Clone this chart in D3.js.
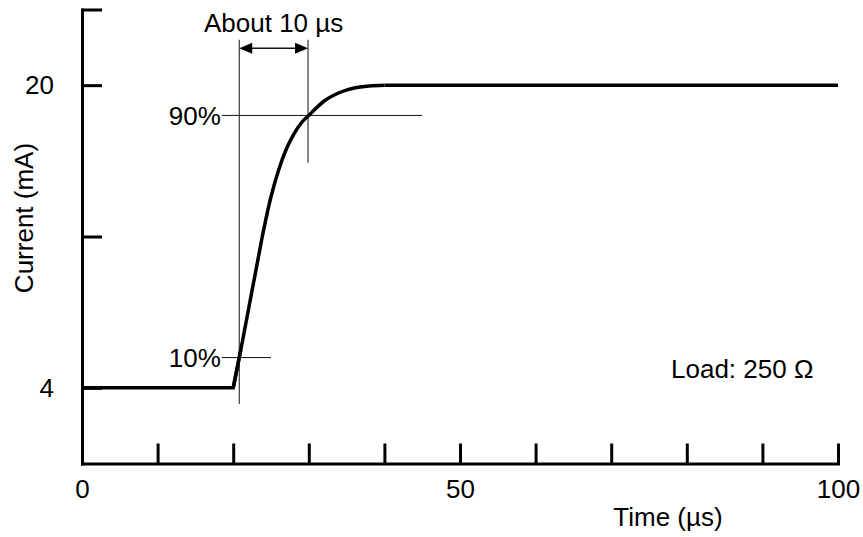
<!DOCTYPE html>
<html>
<head>
<meta charset="utf-8">
<script src="https://cdn.jsdelivr.net/npm/d3@7/dist/d3.min.js"></script>
<style>
  html, body { margin: 0; padding: 0; background: #fff; }
  svg text { font-family: "Liberation Sans", Arial, Helvetica, sans-serif; fill: #000; }
</style>
</head>
<body>
<svg id="chart" width="863" height="537"></svg>
<script>
// Step response of a 4–20 mA current output (time in µs, current in mA)
const riseTime = [20, 21, 22, 23, 24, 25, 26, 27, 28, 29, 30, 31, 32, 34, 36, 38, 40];
const riseCurrent = [4, 6.0, 8.1, 10.2, 12.3, 14.1, 15.5, 16.6, 17.4, 18.0, 18.4, 18.8, 19.15, 19.6, 19.85, 19.96, 20];
const startTime = 0;
const endTime = 100;
const lowCurrent = 4;
const highCurrent = 20;

const xTicks = [0, 10, 20, 30, 40, 50, 60, 70, 80, 90, 100];
const xTickLabels = { 0: "0", 50: "50", 100: "100" };
const yTicks = [4, 12, 20, 24];
const yTickLabels = { 4: "4", 20: "20" };

// 10% / 90% levels of the 4–20 mA span and where the curve crosses them
const levelNames = ["10%", "90%"];
const levelCurrent = [5.6, 18.4];
const levelCrossTime = [20.8, 29.9];
const spanLabel = "About 10 µs";
const loadLabel = "Load: 250 Ω";

const svg = d3.select("#chart");
const FS = 26;

const x = d3.scaleLinear().domain([0, 100]).range([82, 838]);
const y = d3.scaleLinear().domain([0, 24]).range([463.5, 9.5]);

// Axes (ticks point into the plot)
const yAxis = d3.axisLeft(y)
  .tickValues(yTicks)
  .tickSizeInner(-20).tickSizeOuter(0).tickPadding(28)
  .tickFormat(d => yTickLabels[d] || "");
const xAxis = d3.axisBottom(x)
  .tickValues(xTicks)
  .tickSizeInner(-20).tickSizeOuter(0).tickPadding(16)
  .tickFormat(d => xTickLabels[d] || "");

function styleAxis(g) {
  g.select(".domain").attr("stroke", "#000").attr("stroke-width", 3).attr("stroke-linecap", "square");
  g.selectAll(".tick line").attr("stroke", "#000").attr("stroke-width", 3);
  g.selectAll(".tick text").attr("font-size", FS).attr("font-family", null).attr("fill", "#000");
}

svg.append("g").attr("transform", `translate(${x(0)},0)`).call(yAxis).call(styleAxis);
svg.append("g").attr("transform", `translate(0,${y(0)})`).call(xAxis).call(styleAxis);

// Axis titles
svg.append("text")
  .attr("transform", `translate(33,${218}) rotate(-90)`)
  .attr("text-anchor", "middle")
  .attr("font-size", FS)
  .text("Current (mA)");
svg.append("text")
  .attr("x", 668).attr("y", 526)
  .attr("text-anchor", "middle")
  .attr("font-size", FS)
  .text("Time (µs)");

// Guide lines for the 10% and 90% levels
const thin = { stroke: "#111", width: 1 };
const hExtent = [[18.5, 25], [18.5, 45]];
levelNames.forEach((name, i) => {
  svg.append("line")
    .attr("x1", x(hExtent[i][0])).attr("x2", x(hExtent[i][1]))
    .attr("y1", y(levelCurrent[i])).attr("y2", y(levelCurrent[i]))
    .attr("stroke", thin.stroke).attr("stroke-width", thin.width);
  svg.append("text")
    .attr("x", x(hExtent[i][0]) - 1).attr("y", y(levelCurrent[i]))
    .attr("dy", "0.36em")
    .attr("text-anchor", "end")
    .attr("font-size", FS)
    .text(name);
});
const vExtent = [[3.15, 22.4], [15.9, 22.4]];
levelCrossTime.forEach((t, i) => {
  svg.append("line")
    .attr("x1", x(t)).attr("x2", x(t))
    .attr("y1", y(vExtent[i][0])).attr("y2", y(vExtent[i][1]))
    .attr("stroke", thin.stroke).attr("stroke-width", thin.width);
});

// Double-headed arrow spanning the rise time
const arrowY = y(21.95);
const ax0 = x(levelCrossTime[0]), ax1 = x(levelCrossTime[1]);
const headL = 13, headW = 5.5;
svg.append("line")
  .attr("x1", ax0 + headL - 1).attr("x2", ax1 - headL + 1)
  .attr("y1", arrowY).attr("y2", arrowY)
  .attr("stroke", "#111").attr("stroke-width", 1.5);
svg.append("path")
  .attr("d", `M${ax0},${arrowY} L${ax0 + headL},${arrowY - headW} L${ax0 + headL},${arrowY + headW} Z`)
  .attr("fill", "#000");
svg.append("path")
  .attr("d", `M${ax1},${arrowY} L${ax1 - headL},${arrowY - headW} L${ax1 - headL},${arrowY + headW} Z`)
  .attr("fill", "#000");
svg.append("text")
  .attr("x", (ax0 + ax1) / 2).attr("y", 32)
  .attr("text-anchor", "middle")
  .attr("font-size", FS)
  .text(spanLabel);

// Current waveform: flat low level, rise, flat high level
const line = d3.line().x(d => x(d[0])).y(d => y(d[1]));
const rise = riseTime.map((t, i) => [t, riseCurrent[i]]);
const curveStyle = g => g.attr("fill", "none").attr("stroke", "#000").attr("stroke-width", 3.5).attr("stroke-linejoin", "miter");
svg.append("path")
  .datum([[startTime, lowCurrent], [riseTime[0], lowCurrent], [riseTime[1], riseCurrent[1]]])
  .attr("d", line)
  .call(curveStyle);
svg.append("path")
  .datum(rise)
  .attr("d", line.curve(d3.curveMonotoneX))
  .call(curveStyle);
svg.append("path")
  .datum([[riseTime[riseTime.length - 1], highCurrent], [endTime, highCurrent]])
  .attr("d", d3.line().x(d => x(d[0])).y(d => y(d[1])))
  .call(curveStyle);

// Load annotation
svg.append("text")
  .attr("x", 671).attr("y", 378)
  .attr("font-size", FS)
  .text(loadLabel);
</script>
</body>
</html>
